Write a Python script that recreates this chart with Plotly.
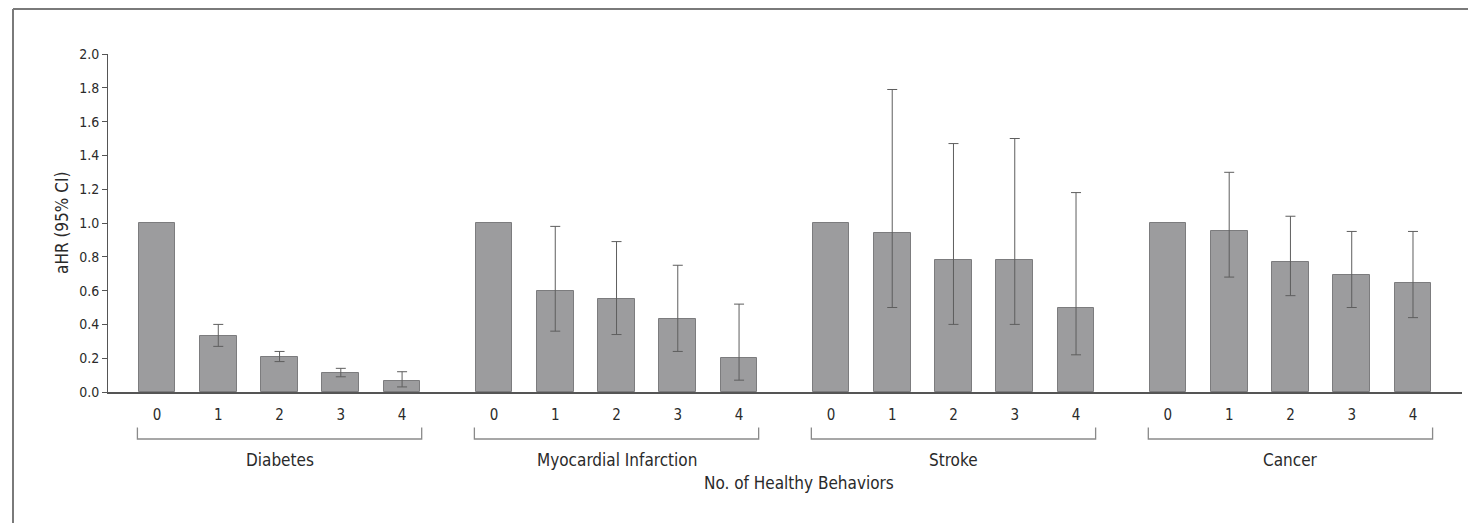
import plotly.graph_objects as go

groups = ["Diabetes", "Myocardial Infarction", "Stroke", "Cancer"]
behaviors = ["0", "1", "2", "3", "4"]

diabetes_hr = [1.0, 0.33, 0.21, 0.11, 0.065]
diabetes_lo = [None, 0.27, 0.18, 0.09, 0.03]
diabetes_hi = [None, 0.40, 0.24, 0.14, 0.12]

mi_hr = [1.0, 0.60, 0.55, 0.43, 0.20]
mi_lo = [None, 0.36, 0.34, 0.24, 0.07]
mi_hi = [None, 0.98, 0.89, 0.75, 0.52]

stroke_hr = [1.0, 0.94, 0.78, 0.78, 0.50]
stroke_lo = [None, 0.50, 0.40, 0.40, 0.22]
stroke_hi = [None, 1.79, 1.47, 1.50, 1.18]

cancer_hr = [1.0, 0.95, 0.77, 0.69, 0.645]
cancer_lo = [None, 0.68, 0.57, 0.50, 0.44]
cancer_hi = [None, 1.30, 1.04, 0.95, 0.95]

y_ticks = [0.0, 0.2, 0.4, 0.6, 0.8, 1.0, 1.2, 1.4, 1.6, 1.8, 2.0]

series = [
    (diabetes_hr, diabetes_lo, diabetes_hi),
    (mi_hr, mi_lo, mi_hi),
    (stroke_hr, stroke_lo, stroke_hi),
    (cancer_hr, cancer_lo, cancer_hi),
]

GROUP_STEP = 5.5
FONT = "DejaVu Sans Condensed, Liberation Sans Narrow, DejaVu Sans, sans-serif"
TXT = "#2a2a2a"

# page has an 8px body offset; figure is sized/margined to compensate
W, H = 1468, 515
ML, MR, MT, MB = 100, 14, 46, 131
PW = W - ML - MR
PH = H - MT - MB

fig = go.Figure()
tickvals, ticktext = [], []
for g, (hr, lo, hi) in enumerate(series):
    xs = [g * GROUP_STEP + i for i in range(len(hr))]
    fig.add_trace(go.Bar(
        x=xs, y=hr, width=0.6,
        marker=dict(color="#9c9c9e", line=dict(color="#7c7c7e", width=1)),
        showlegend=False, hoverinfo="x+y",
    ))
    ex = [x for x, l in zip(xs, lo) if l is not None]
    ey = [v for v, l in zip(hr, lo) if l is not None]
    plus = [h - v for v, h in zip(hr, hi) if h is not None]
    minus = [v - l for v, l in zip(hr, lo) if l is not None]
    fig.add_trace(go.Scatter(
        x=ex, y=ey, mode="markers", marker=dict(size=1, color="rgba(0,0,0,0)"),
        error_y=dict(type="data", symmetric=False, array=plus, arrayminus=minus,
                     color="#5e5e5e", thickness=1, width=5),
        showlegend=False,
    ))
    tickvals += xs
    ticktext += behaviors
    x0 = g * GROUP_STEP - 0.32
    x1 = g * GROUP_STEP + 4.32
    fig.add_shape(type="path",
                  path=f"M {x0},-0.105 L {x0},-0.139 L {x1},-0.139 L {x1},-0.105",
                  xref="x", yref="paper", line=dict(color="#8a8a8a", width=1.3))
    fig.add_annotation(x=g * GROUP_STEP + 2, y=-0.2, xref="x", yref="paper",
                       xanchor="center", yanchor="middle",
                       text=groups[g], showarrow=False,
                       font=dict(family=FONT, size=17, color=TXT))

fig.add_annotation(x=0.51, y=-0.268, xref="paper", yref="paper",
                   xanchor="center", yanchor="middle",
                   text="No. of Healthy Behaviors", showarrow=False,
                   font=dict(family=FONT, size=17, color=TXT))
fig.add_annotation(x=-0.034, y=0.5, xref="paper", yref="paper",
                   xanchor="center", yanchor="middle",
                   text="aHR (95% CI)", showarrow=False, textangle=-90,
                   font=dict(family=FONT, size=17, color=TXT))

# outer frame (top and left edges)
fx = (5 - ML) / PW
fy = (MT + PH - 1) / PH
fig.add_shape(type="line", xref="paper", yref="paper",
              x0=fx, x1=1.05, y0=fy, y1=fy, line=dict(color="#7a7a7a", width=2))
fig.add_shape(type="line", xref="paper", yref="paper",
              x0=fx, x1=fx, y0=fy, y1=-0.5, line=dict(color="#7a7a7a", width=2))

fig.update_layout(
    width=W, height=H,
    margin=dict(l=ML, r=MR, t=MT, b=MB),
    plot_bgcolor="white", paper_bgcolor="white",
    bargap=0,
    font=dict(family=FONT, size=14, color=TXT),
)
fig.update_xaxes(range=[-0.8, 21.3], tickmode="array", tickvals=tickvals, ticktext=ticktext,
                 showline=True, linecolor="#555", linewidth=2, ticks="",
                 showgrid=False, zeroline=False, ticklabelstandoff=8,
                 tickfont=dict(family=FONT, size=15, color=TXT))
fig.update_yaxes(range=[0, 2.0], tickmode="array", tickvals=y_ticks,
                 ticktext=[f"{v:.1f}" for v in y_ticks],
                 showline=True, linecolor="#555", linewidth=1, ticks="outside",
                 ticklen=5, tickcolor="#555", showgrid=False, zeroline=False,
                 tickfont=dict(family=FONT, size=14, color=TXT))

fig.write_html("out.html")
